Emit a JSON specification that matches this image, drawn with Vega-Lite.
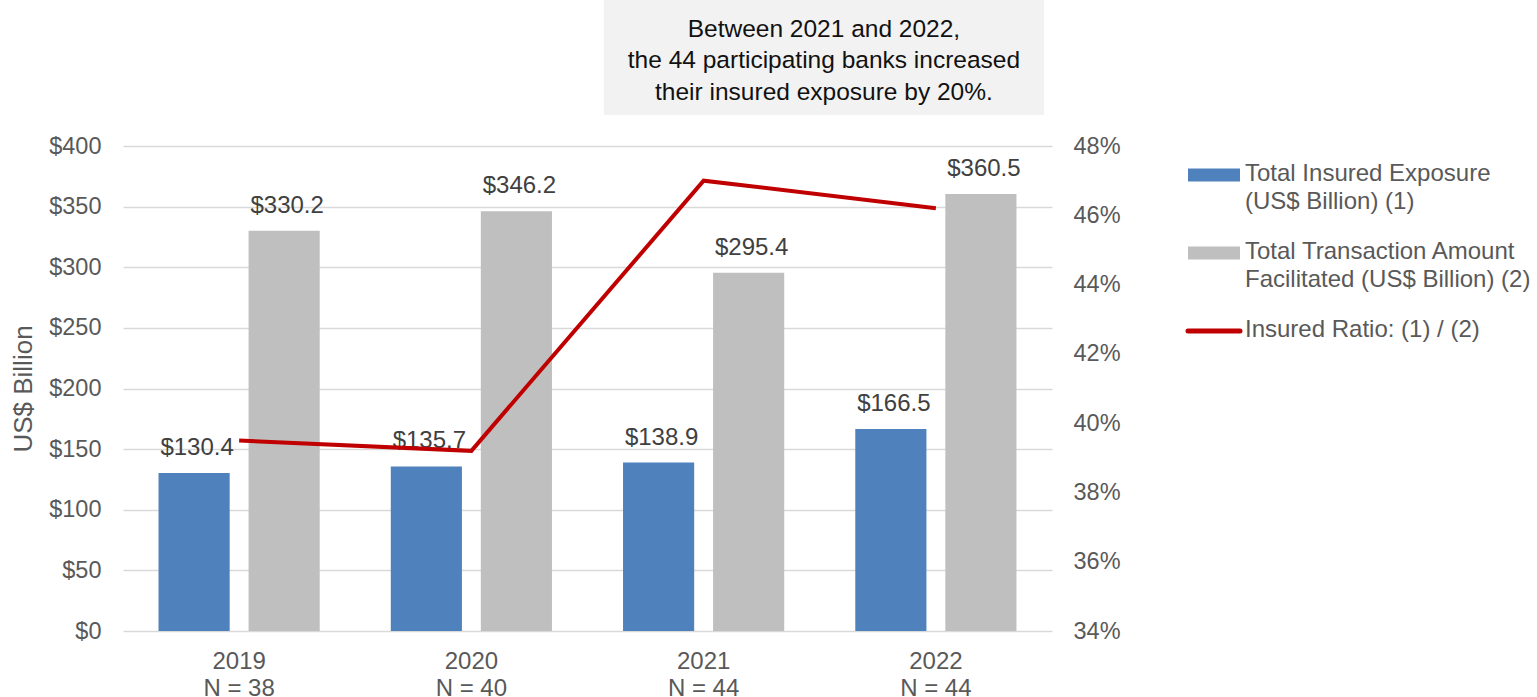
{
  "$schema": "https://vega.github.io/schema/vega-lite/v6.json",
  "autosize": {"type": "none"},
  "width": 929,
  "height": 485,
  "padding": {"left": 123, "top": 146, "right": 485, "bottom": 66},
  "background": "white",
  "config": {
    "view": {"stroke": null},
    "font": "Liberation Sans",
    "axis": {"labelFont": "Liberation Sans", "titleFont": "Liberation Sans"},
    "legend": {"labelFont": "Liberation Sans"}
  },
  "datasets": {
    "vals": [
      {"year": "2019|N = 38", "series": "Total Insured Exposure (US$ Billion) (1)", "value": 130.4},
      {"year": "2020|N = 40", "series": "Total Insured Exposure (US$ Billion) (1)", "value": 135.7},
      {"year": "2021|N = 44", "series": "Total Insured Exposure (US$ Billion) (1)", "value": 138.9},
      {"year": "2022|N = 44", "series": "Total Insured Exposure (US$ Billion) (1)", "value": 166.5},
      {"year": "2019|N = 38", "series": "Total Transaction Amount Facilitated (US$ Billion) (2)", "value": 330.2},
      {"year": "2020|N = 40", "series": "Total Transaction Amount Facilitated (US$ Billion) (2)", "value": 346.2},
      {"year": "2021|N = 44", "series": "Total Transaction Amount Facilitated (US$ Billion) (2)", "value": 295.4},
      {"year": "2022|N = 44", "series": "Total Transaction Amount Facilitated (US$ Billion) (2)", "value": 360.5}
    ],
    "ratio": [
      {"year": "2019|N = 38", "series": "Insured Ratio: (1) / (2)", "ratio": 0.395},
      {"year": "2020|N = 40", "series": "Insured Ratio: (1) / (2)", "ratio": 0.392},
      {"year": "2021|N = 44", "series": "Insured Ratio: (1) / (2)", "ratio": 0.470},
      {"year": "2022|N = 44", "series": "Insured Ratio: (1) / (2)", "ratio": 0.462}
    ]
  },
  "layer": [
    {
      "data": {"name": "vals"},
      "mark": {"type": "bar"},
      "encoding": {
        "x": {
          "field": "year", "type": "nominal", "sort": null,
          "scale": {"paddingInner": 0.306, "paddingOuter": 0.153},
          "axis": {
            "title": null, "domain": false, "ticks": false, "labelAngle": 0,
            "labelExpr": "split(datum.label, '|')",
            "labelFontSize": 24, "labelColor": "#595959", "labelLineHeight": 27,
            "labelPadding": 18
          }
        },
        "xOffset": {"field": "series", "type": "nominal", "sort": null, "scale": {"paddingInner": 0.21, "paddingOuter": 0}},
        "y": {
          "field": "value", "type": "quantitative",
          "scale": {"domain": [0, 400], "nice": false},
          "axis": {
            "orient": "left", "values": [0, 50, 100, 150, 200, 250, 300, 350, 400],
            "labelExpr": "'$' + datum.value",
            "domain": false, "ticks": false,
            "gridColor": "#d9d9d9", "gridWidth": 1.5,
            "labelFontSize": 23.5, "labelColor": "#595959", "labelPadding": 22,
            "title": "US$ Billion", "titleFontSize": 26, "titleFontWeight": "normal",
            "titleColor": "#595959", "titlePadding": 12
          }
        },
        "color": {
          "field": "series", "type": "nominal",
          "scale": {
            "domain": ["Total Insured Exposure (US$ Billion) (1)", "Total Transaction Amount Facilitated (US$ Billion) (2)", "Insured Ratio: (1) / (2)"],
            "range": ["#4f81bd", "#bfbfbf", "#c00000"]
          },
          "legend": {
            "orient": "none", "legendX": 1079, "legendY": 16,
            "title": null, "symbolType": "stroke", "symbolSize": 2704,
            "labelFontSize": 24, "labelColor": "#595959", "labelLimit": 400,
            "labelOffset": 19, "rowPadding": 13,
            "labelExpr": "datum.label == 'Total Insured Exposure (US$ Billion) (1)' ? ['Total Insured Exposure', '(US$ Billion) (1)'] : datum.label == 'Total Transaction Amount Facilitated (US$ Billion) (2)' ? ['Total Transaction Amount', 'Facilitated (US$ Billion) (2)'] : datum.label",
            "encode": {
              "symbols": {"update": {
                "stroke": {"scale": "color", "field": "value"},
                "fill": {"value": "transparent"},
                "strokeWidth": {"signal": "datum.index === 2 ? 5 : 13"},
                "strokeCap": {"signal": "datum.index === 2 ? 'round' : 'butt'"},
                "opacity": {"value": 1},
                "y": {"signal": "datum.index === 2 ? 26 : 13"}
              }},
              "labels": {"update": {
                "lineHeight": {"value": 28},
                "baseline": {"value": "top"},
                "y": {"signal": "datum.index === 2 ? 13 : 0"}
              }}
            }
          }
        }
      }
    },
    {
      "data": {"name": "vals"},
      "mark": {"type": "text", "dy": -25, "dx": 3, "fontSize": 24, "color": "#404040", "font": "Liberation Sans"},
      "encoding": {
        "x": {"field": "year", "type": "nominal", "sort": null, "scale": {"paddingInner": 0.306, "paddingOuter": 0.153}, "axis": null},
        "xOffset": {"field": "series", "type": "nominal", "sort": null, "scale": {"paddingInner": 0.21, "paddingOuter": 0}},
        "y": {"field": "value", "type": "quantitative", "scale": {"domain": [0, 400], "nice": false}, "axis": null},
        "text": {"field": "value", "type": "quantitative", "format": "$.1f"}
      }
    },
    {
      "data": {"name": "ratio"},
      "mark": {"type": "line", "strokeWidth": 4},
      "encoding": {
        "x": {"field": "year", "type": "nominal", "sort": null, "scale": {"paddingInner": 0.306, "paddingOuter": 0.153}, "axis": null},
        "y": {
          "field": "ratio", "type": "quantitative",
          "scale": {"domain": [0.34, 0.48], "nice": false, "zero": false},
          "axis": {
            "orient": "right", "values": [0.34, 0.36, 0.38, 0.40, 0.42, 0.44, 0.46, 0.48],
            "format": ".0%", "grid": false, "domain": false, "ticks": false,
            "labelFontSize": 23.5, "labelColor": "#595959", "labelPadding": 21, "title": null
          }
        },
        "color": {"field": "series", "type": "nominal"}
      }
    },
    {
      "data": {"values": [{"note": "annotation"}]},
      "layer": [
        {
          "mark": {"type": "rect", "color": "#f2f2f2"},
          "encoding": {
            "x": {"datum": 2.07, "type": "quantitative", "scale": {"domain": [0, 4], "nice": false, "zero": false}, "axis": null},
            "x2": {"datum": 3.966},
            "y": {"datum": 425.6, "type": "quantitative", "scale": {"domain": [0, 400], "nice": false}, "axis": null},
            "y2": {"datum": 520.4}
          }
        },
        {
          "mark": {
            "type": "text", "fontSize": 24.5, "color": "#111111", "lineHeight": 31.5,
            "baseline": "middle", "align": "center", "font": "Liberation Sans",
            "text": ["Between 2021 and 2022,", "the 44 participating banks increased", "their insured exposure by 20%."]
          },
          "encoding": {
            "x": {"datum": 3.018, "type": "quantitative", "scale": {"domain": [0, 4], "nice": false, "zero": false}, "axis": null},
            "y": {"datum": 495.7, "type": "quantitative", "scale": {"domain": [0, 400], "nice": false}, "axis": null}
          }
        }
      ]
    }
  ],
  "resolve": {"scale": {"y": "independent", "x": "independent"}}
}
